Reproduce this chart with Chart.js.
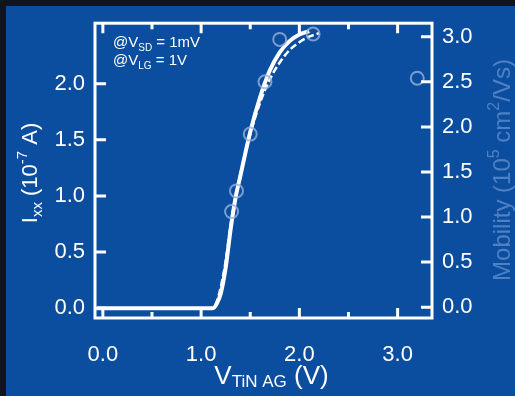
<!DOCTYPE html>
<html lang="en">
<head>
<meta charset="UTF-8">
<title>Ixx and Mobility vs VTiN AG</title>
<script src="https://cdn.jsdelivr.net/npm/chart.js"></script>
<style>
    * { margin: 0; padding: 0; box-sizing: border-box; }
    body { background: #0f151c; width: 515px; height: 396px; overflow: hidden; position: relative; }
    .panel { position: absolute; left: 6px; top: 6px; width: 509px; height: 390px; background: #0b4d9e; }
    .wrap { position: absolute; left: 0; top: 0; width: 515px; height: 396px; }
</style>
</head>
<body>
<div class="panel"></div>
<div class="wrap"><canvas id="chart" width="515" height="396"></canvas></div>
<script>
// Ixx, first sweep (solid)
var sweepAV = [-0.06, 0.3, 0.6, 0.9, 1.05, 1.12, 1.16, 1.20, 1.25, 1.30, 1.35, 1.40, 1.50, 1.60, 1.70, 1.80, 1.90, 2.00, 2.10];
var sweepAI = [0, 0, 0, 0, 0, 0.0, 0.04, 0.13, 0.36, 0.70, 0.98, 1.18, 1.57, 1.88, 2.12, 2.28, 2.38, 2.44, 2.47];
// Ixx, second sweep (dashed)
var sweepBV = [-0.06, 0.3, 0.6, 0.9, 1.05, 1.12, 1.16, 1.20, 1.25, 1.30, 1.35, 1.40, 1.50, 1.60, 1.70, 1.80, 1.90, 2.00, 2.10, 2.20];
var sweepBI = [0, 0, 0, 0, 0, 0.0, 0.06, 0.19, 0.42, 0.74, 1.00, 1.20, 1.55, 1.83, 2.04, 2.19, 2.30, 2.37, 2.42, 2.45];
// mobility points (right axis)
var mobilityV = [1.31, 1.36, 1.50, 1.65, 1.80, 2.14, 3.20];
var mobility = [1.06, 1.29, 1.92, 2.50, 2.97, 3.03, 2.54];

var xTicks = [0, 0.5, 1, 1.5, 2, 2.5, 3];
var leftTicks = [0, 0.5, 1, 1.5, 2];
var rightTicks = [0, 0.5, 1, 1.5, 2, 2.5, 3];

var FONT = "'Liberation Sans', Arial, sans-serif";

function pts(xs, ys) {
    return xs.map(function (x, i) { return { x: x, y: ys[i] }; });
}

function setTicks(list) {
    return function (scale) {
        scale.ticks = list.map(function (v) { return { value: v }; });
    };
}

// draws a run of text pieces with sub/superscripts, centred on (0,0)
function drawRich(ctx, parts) {
    var total = 0;
    parts.forEach(function (p) {
        ctx.font = p.size + 'px ' + FONT;
        p.w = ctx.measureText(p.t).width;
        total += p.w;
    });
    var x = -total / 2;
    parts.forEach(function (p) {
        ctx.font = p.size + 'px ' + FONT;
        ctx.fillText(p.t, x, p.dy || 0);
        x += p.w;
    });
}

var decor = {
    id: 'decor',
    afterDatasetsDraw: function (chart) {
        var ctx = chart.ctx;
        var a = chart.chartArea;
        var sx = chart.scales.x, sy = chart.scales.y, sy1 = chart.scales.y1;
        ctx.save();
        ctx.strokeStyle = '#ffffff';
        ctx.lineWidth = 3;
        ctx.strokeRect(a.left, a.top, a.right - a.left, a.bottom - a.top);

        ctx.beginPath();
        xTicks.forEach(function (v) {
            var px = sx.getPixelForValue(v);
            var len = (v % 1 === 0) ? 10 : 6;
            ctx.moveTo(px, a.bottom); ctx.lineTo(px, a.bottom - len);
            ctx.moveTo(px, a.top); ctx.lineTo(px, a.top + len);
        });
        leftTicks.forEach(function (v) {
            var py = sy.getPixelForValue(v);
            ctx.moveTo(a.left, py); ctx.lineTo(a.left + 11, py);
        });
        rightTicks.forEach(function (v) {
            var py = sy1.getPixelForValue(v);
            ctx.moveTo(a.right, py); ctx.lineTo(a.right - 11, py);
        });
        ctx.stroke();
        ctx.restore();
    },
    afterDraw: function (chart) {
        var ctx = chart.ctx;
        var a = chart.chartArea;
        ctx.save();
        ctx.fillStyle = '#ffffff';
        ctx.textBaseline = 'alphabetic';
        ctx.textAlign = 'left';

        // x title
        ctx.save();
        ctx.translate((a.left + a.right) / 2 + 8, 384);
        drawRich(ctx, [
            { t: 'V', size: 26 },
            { t: 'TiN AG', size: 17, dy: 3 },
            { t: ' (V)', size: 26 }
        ]);
        ctx.restore();

        // left title
        ctx.save();
        ctx.translate(37, 173);
        ctx.rotate(-Math.PI / 2);
        drawRich(ctx, [
            { t: 'I', size: 22 },
            { t: 'xx', size: 15, dy: 5 },
            { t: ' (10', size: 22 },
            { t: '-7', size: 15, dy: -10 },
            { t: ' A)', size: 22 }
        ]);
        ctx.restore();

        // right title
        ctx.save();
        ctx.fillStyle = '#4f80c3';
        ctx.translate(510, 170);
        ctx.rotate(-Math.PI / 2);
        drawRich(ctx, [
            { t: 'Mobility (10', size: 24 },
            { t: '5', size: 16, dy: -11 },
            { t: ' cm', size: 24 },
            { t: '2', size: 16, dy: -11 },
            { t: '/Vs)', size: 24 }
        ]);
        ctx.restore();

        // conditions
        var lines = [['SD', ' = 1mV', 47], ['LG', ' = 1V', 65]];
        lines.forEach(function (l) {
            ctx.save();
            var x = 113;
            ctx.font = '15px ' + FONT;
            ctx.fillText('@V', x, l[2]);
            x += ctx.measureText('@V').width;
            ctx.font = '10px ' + FONT;
            ctx.fillText(l[0], x, l[2] + 4);
            x += ctx.measureText(l[0]).width;
            ctx.font = '15px ' + FONT;
            ctx.fillText(l[1], x, l[2]);
            ctx.restore();
        });
        ctx.restore();
    }
};

var ctx = document.getElementById('chart').getContext('2d');
var myChart = new Chart(ctx, {
    type: 'scatter',
    data: {
        datasets: [{
            label: 'Mobility',
            data: pts(mobilityV, mobility),
            yAxisID: 'y1',
            showLine: false,
            pointRadius: 6.5,
            pointBorderWidth: 2,
            pointBorderColor: 'rgba(150, 178, 220, 0.8)',
            pointBackgroundColor: 'rgba(0, 0, 0, 0)',
            order: 0
        }, {
            label: 'Ixx sweep 1',
            data: pts(sweepAV, sweepAI),
            yAxisID: 'y',
            showLine: true,
            borderColor: '#ffffff',
            borderWidth: 4,
            pointRadius: 0,
            cubicInterpolationMode: 'monotone',
            order: 2
        }, {
            label: 'Ixx sweep 2',
            data: pts(sweepBV, sweepBI),
            yAxisID: 'y',
            showLine: true,
            borderColor: '#ffffff',
            borderWidth: 2.5,
            borderDash: [7, 3],
            pointRadius: 0,
            cubicInterpolationMode: 'monotone',
            order: 1
        }]
    },
    options: {
        responsive: false,
        devicePixelRatio: 1,
        animation: false,
        layout: { padding: { top: 21, left: 0, right: 0, bottom: 0 } },
        plugins: { legend: { display: false }, tooltip: { enabled: false } },
        scales: {
            x: {
                type: 'linear',
                position: 'bottom',
                min: -0.08,
                max: 3.35,
                afterBuildTicks: setTicks(xTicks),
                afterFit: function (s) { s.height = 78; },
                grid: { display: false, drawTicks: false },
                border: { display: false },
                ticks: {
                    color: '#ffffff',
                    padding: 24,
                    font: { size: 22, family: FONT },
                    maxRotation: 0,
                    autoSkip: false,
                    callback: function (v) { return v % 1 === 0 ? v.toFixed(1) : ''; }
                }
            },
            y: {
                type: 'linear',
                position: 'left',
                min: -0.088,
                max: 2.54,
                afterBuildTicks: setTicks(leftTicks),
                afterFit: function (s) { s.width = 95; },
                grid: { display: false, drawTicks: false },
                border: { display: false },
                ticks: {
                    color: '#ffffff',
                    padding: 10,
                    font: { size: 22, family: FONT },
                    callback: function (v) { return v.toFixed(1); }
                }
            },
            y1: {
                type: 'linear',
                position: 'right',
                min: -0.12,
                max: 3.15,
                afterBuildTicks: setTicks(rightTicks),
                afterFit: function (s) { s.width = 83; },
                grid: { display: false, drawTicks: false },
                border: { display: false },
                ticks: {
                    color: '#ffffff',
                    padding: 10,
                    font: { size: 22, family: FONT },
                    callback: function (v) { return v.toFixed(1); }
                }
            }
        }
    },
    plugins: [decor]
});
</script>
</body>
</html>
